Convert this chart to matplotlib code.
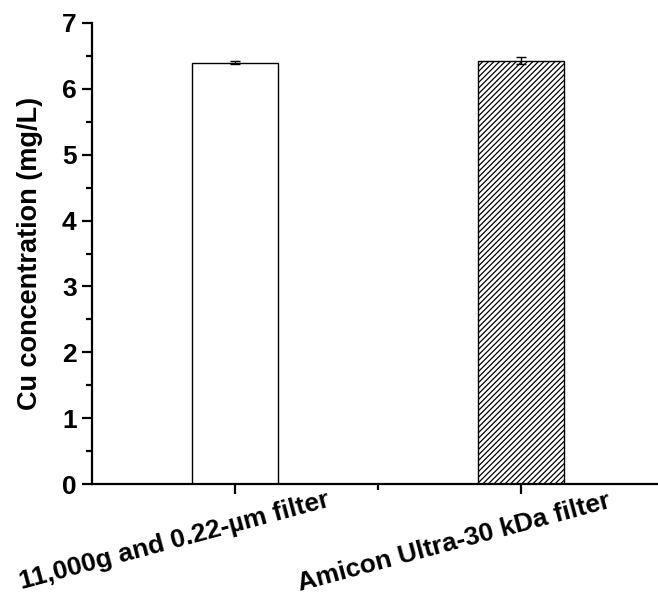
import matplotlib
matplotlib.use("Agg")
import matplotlib.pyplot as plt
from matplotlib.transforms import ScaledTranslation
from matplotlib.ticker import MultipleLocator

# data
categories = ["11,000g and 0.22-\u00b5m filter", "Amicon Ultra-30 kDa filter"]
cu_conc = [6.40, 6.43]
cu_err = [0.02, 0.05]
hatches = ["", "//////"]

plt.rcParams['font.family'] = ['Liberation Sans', 'DejaVu Sans']
plt.rcParams['font.weight'] = 'bold'
plt.rcParams['hatch.linewidth'] = 0.9

fig = plt.figure(figsize=(6.58, 5.97), dpi=100)
ax = fig.add_axes([92 / 658, 113 / 597, 572 / 658, 461 / 597])

x = list(range(len(categories)))
bars = ax.bar(x, cu_conc, width=0.3, color='white', edgecolor='black',
              linewidth=1.0, yerr=cu_err, capsize=3.3,
              error_kw=dict(elinewidth=1.0, capthick=1.0, ecolor='black'))
for b, h in zip(bars, hatches):
    b.set_hatch(h)

ax.set_xlim(-0.5, 1.5)
ax.set_ylim(0, 7)
ax.yaxis.set_major_locator(MultipleLocator(1))
ax.yaxis.set_minor_locator(MultipleLocator(0.5))
ax.set_xticks(x)
ax.set_xticks([0.5], minor=True)
ax.set_xticklabels(categories, rotation=15, ha='center', fontsize=19, fontweight='bold')

for spine in ['top', 'right']:
    ax.spines[spine].set_visible(False)
for spine in ['left', 'bottom']:
    ax.spines[spine].set_linewidth(1.6)

ax.tick_params(axis='both', which='major', direction='out', length=7, width=1.6,
               labelsize=19)
ax.tick_params(axis='both', which='minor', direction='out', length=4, width=1.6)
ax.tick_params(axis='x', which='major', pad=1)
ax.tick_params(axis='y', which='major', pad=4)
for lab in ax.get_yticklabels():
    lab.set_fontweight('bold')

# shift rotated category labels left, as in the reference
shifts = [(-0.6, 0.07), (-0.67, 0.06)]
for lab, (dx, dy) in zip(ax.get_xticklabels(), shifts):
    lab.set_transform(lab.get_transform() + ScaledTranslation(dx, dy, fig.dpi_scale_trans))

ax.set_ylabel("Cu concentration (mg/L)", fontsize=19.5, fontweight='bold', labelpad=14)

fig.savefig("out.png", dpi=100)
